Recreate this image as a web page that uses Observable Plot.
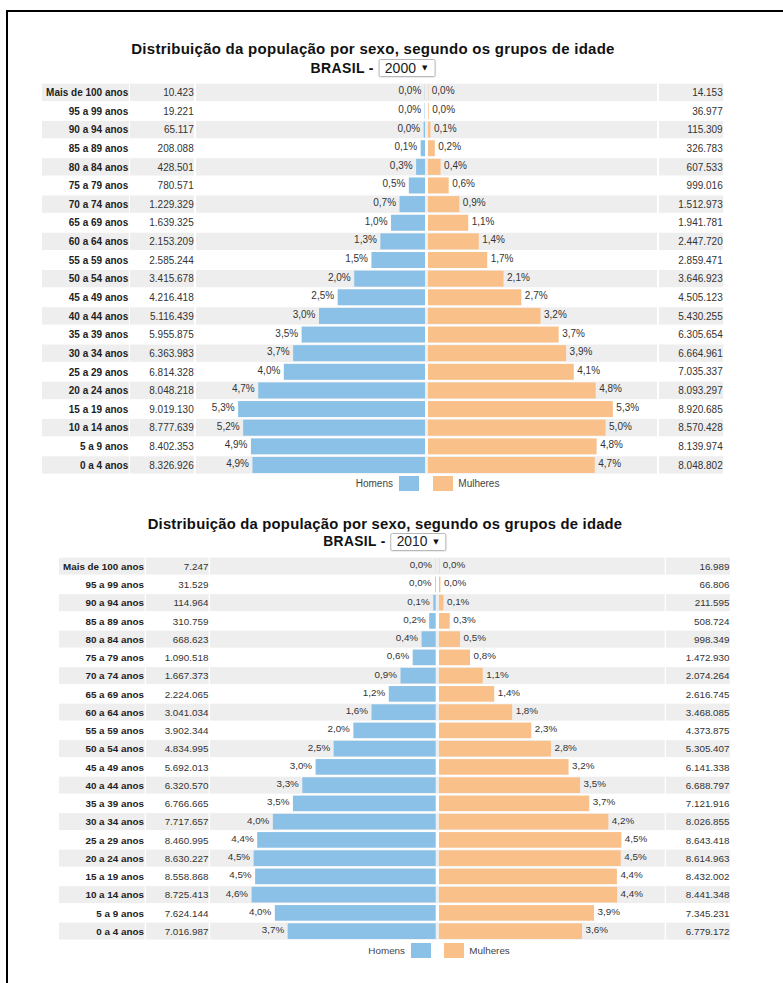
<!DOCTYPE html>
<html><head><meta charset="utf-8">
<script src="https://cdn.jsdelivr.net/npm/d3@7"></script>
<script src="https://cdn.jsdelivr.net/npm/@observablehq/plot@0.6"></script>
<style>
html,body{margin:0;padding:0;background:#fff;overflow:hidden;}
body{width:783px;height:983px;position:relative;font-family:"Liberation Sans",Arial,sans-serif;}
#frame{position:absolute;left:6px;top:10px;width:800px;height:1000px;border-left:2px solid #000;border-top:2px solid #000;}
.title{position:absolute;transform:translateX(-50%);white-space:nowrap;font-weight:bold;line-height:16px;color:#111;}
.line2{position:absolute;transform:translateX(-50%);display:flex;align-items:center;white-space:nowrap;font-weight:bold;height:18px;color:#111;}
.sel{box-sizing:border-box;height:18px;border:1px solid #b8b8b8;border-radius:2px;margin-left:5px;padding:0 7px 0 5px;display:flex;align-items:center;font-weight:normal;color:#222;letter-spacing:0;box-shadow:0 1px 1px rgba(0,0,0,0.08);}
.arrow{font-size:7px;margin-left:6px;font-family:"DejaVu Sans",sans-serif;color:#111;}
.col{position:absolute;}
.col svg{display:block;background:transparent;max-width:none;}
.leg{position:absolute;display:flex;align-items:center;color:#444;}
.sw{width:20px;height:15px;}
</style></head><body>
<div id="frame"></div>
<div id="root"></div>
<script>
const ages = ["Mais de 100 anos","95 a 99 anos","90 a 94 anos","85 a 89 anos","80 a 84 anos","75 a 79 anos","70 a 74 anos","65 a 69 anos","60 a 64 anos","55 a 59 anos","50 a 54 anos","45 a 49 anos","40 a 44 anos","35 a 39 anos","30 a 34 anos","25 a 29 anos","20 a 24 anos","15 a 19 anos","10 a 14 anos","5 a 9 anos","0 a 4 anos"];

const men2000 = [10423,19221,65117,208088,428501,780571,1229329,1639325,2153209,2585244,3415678,4216418,5116439,5955875,6363983,6814328,8048218,9019130,8777639,8402353,8326926];
const women2000 = [14153,36977,115309,326783,607533,999016,1512973,1941781,2447720,2859471,3646923,4505123,5430255,6305654,6664961,7035337,8093297,8920685,8570428,8139974,8048802];
const menPct2000 = ["0,0%","0,0%","0,0%","0,1%","0,3%","0,5%","0,7%","1,0%","1,3%","1,5%","2,0%","2,5%","3,0%","3,5%","3,7%","4,0%","4,7%","5,3%","5,2%","4,9%","4,9%"];
const womenPct2000 = ["0,0%","0,0%","0,1%","0,2%","0,4%","0,6%","0,9%","1,1%","1,4%","1,7%","2,1%","2,7%","3,2%","3,7%","3,9%","4,1%","4,8%","5,3%","5,0%","4,8%","4,7%"];

const men2010 = [7247,31529,114964,310759,668623,1090518,1667373,2224065,3041034,3902344,4834995,5692013,6320570,6766665,7717657,8460995,8630227,8558868,8725413,7624144,7016987];
const women2010 = [16989,66806,211595,508724,998349,1472930,2074264,2616745,3468085,4373875,5305407,6141338,6688797,7121916,8026855,8643418,8614963,8432002,8441348,7345231,6779172];
const menPct2010 = ["0,0%","0,0%","0,1%","0,2%","0,4%","0,6%","0,9%","1,2%","1,6%","2,0%","2,5%","3,0%","3,3%","3,5%","4,0%","4,4%","4,5%","4,5%","4,6%","4,0%","3,7%"];
const womenPct2010 = ["0,0%","0,0%","0,1%","0,3%","0,5%","0,8%","1,1%","1,4%","1,8%","2,3%","2,8%","3,2%","3,5%","3,7%","4,2%","4,5%","4,5%","4,4%","4,4%","3,9%","3,6%"];

const titleText = "Distribuição da população por sexo, segundo os grupos de idade";
const regionText = "BRASIL -";
const legendMen = "Homens";
const legendWomen = "Mulheres";

const fmt = d3.formatLocale({decimal: ",", thousands: ".", grouping: [3], currency: ["R$", ""]}).format(",d");

const BLUE = "#8bc1e7", ORANGE = "#f9c08a", GRAY = "#eeeeee";

const charts = [
  {year: "2000", men: men2000, women: women2000, menPct: menPct2000, womenPct: womenPct2000,
   titleX: 373, titleTop: 41, line2Top: 59, tfont: 15, tls: 0.27, l2font: 14, font: 10,
   top: 82.65, height: 391.3,
   label: [42, 87], mv: [130, 64], bars: [196, 461], wv: [658.5, 64.2],
   D: 11.125e6, gap: 1.5, legTop: 476, blueR: 419, orangeL: 433.3},
  {year: "2010", men: men2010, women: women2010, menPct: menPct2010, womenPct: womenPct2010,
   titleX: 385, titleTop: 516.2, line2Top: 532.7, tfont: 14.8, tls: 0.23, l2font: 13.8, font: 9.85,
   top: 557.1, height: 383.3,
   label: [59, 85.7], mv: [146, 62.7], bars: [210.3, 454.7], wv: [666, 64],
   D: 10.775e6, gap: 1.65, legTop: 942.7, blueR: 431, orangeL: 444.3}
];

const root = document.getElementById("root");

function place(el, left, top, width) {
  const d = document.createElement("div");
  d.className = "col";
  d.style.left = left + "px";
  d.style.top = top + "px";
  if (width) d.style.width = width + "px";
  d.appendChild(el);
  root.appendChild(d);
  return d;
}

charts.forEach(c => {
  const rows = ages.map((age, i) => ({age, i, men: c.men[i], women: c.women[i], mp: c.menPct[i], wp: c.womenPct[i]}));
  const stripes = rows.filter(d => d.i % 2 === 0);
  const style = {fontFamily: "'Liberation Sans', Arial, sans-serif", fontSize: c.font + "px", background: "transparent", overflow: "visible"};
  const yScale = {domain: ages, type: "band", padding: 0, round: false, axis: null};
  const bg = Plot.cell(stripes, {y: "age", fill: GRAY, insetTop: 0.65, insetBottom: 0.65});

  // title
  const t = document.createElement("div");
  t.className = "title";
  t.style.left = c.titleX + "px";
  t.style.top = c.titleTop + "px";
  t.style.fontSize = c.tfont + "px";
  t.style.letterSpacing = c.tls + "px";
  t.textContent = titleText;
  root.appendChild(t);

  const l2 = document.createElement("div");
  l2.className = "line2";
  l2.style.left = c.titleX + "px";
  l2.style.top = c.line2Top + "px";
  l2.style.fontSize = c.l2font + "px";
  l2.innerHTML = `<span style="letter-spacing:0.35px">${regionText}</span><span class="sel"><span>${c.year}</span><span class="arrow">▼</span></span>`;
  root.appendChild(l2);

  // label column
  place(Plot.plot({
    width: c.label[1], height: c.height, margin: 0, style, y: yScale,
    marks: [bg, Plot.text(rows, {y: "age", text: "age", frameAnchor: "right", textAnchor: "end", dx: -1.3, fontWeight: "bold", fill: "#222"})]
  }), c.label[0], c.top, c.label[1]);

  // men values column
  place(Plot.plot({
    width: c.mv[1], height: c.height, margin: 0, style, y: yScale,
    marks: [bg, Plot.text(rows, {y: "age", text: d => fmt(d.men), frameAnchor: "right", textAnchor: "end", dx: -0.8, fill: "#333"})]
  }), c.mv[0], c.top, c.mv[1]);

  // bars
  place(Plot.plot({
    width: c.bars[1], height: c.height, margin: 0, style, y: yScale,
    x: {domain: [-c.D, c.D], axis: null},
    marks: [
      bg,
      Plot.barX(rows, {x1: 0, x2: d => -d.men, y: "age", fill: BLUE, dx: -c.gap, insetTop: 1.3, insetBottom: 1.3}),
      Plot.barX(rows, {x1: 0, x2: "women", y: "age", fill: ORANGE, dx: c.gap, insetTop: 1.3, insetBottom: 1.3}),
      Plot.text(rows, {x: d => -d.men, y: "age", text: "mp", textAnchor: "end", dx: -c.gap - 4, dy: -1.7, fill: "#333"}),
      Plot.text(rows, {x: "women", y: "age", text: "wp", textAnchor: "start", dx: c.gap + 3, dy: -1.7, fill: "#333"})
    ]
  }), c.bars[0], c.top, c.bars[1]);

  // women values column
  place(Plot.plot({
    width: c.wv[1], height: c.height, margin: 0, style, y: yScale,
    marks: [bg, Plot.text(rows, {y: "age", text: d => fmt(d.women), frameAnchor: "right", textAnchor: "end", dx: -1, fill: "#333"})]
  }), c.wv[0], c.top, c.wv[1]);

  // legend
  const lg1 = document.createElement("div");
  lg1.className = "leg";
  lg1.style.left = (c.blueR - 200) + "px";
  lg1.style.width = "200px";
  lg1.style.justifyContent = "flex-end";
  lg1.style.top = c.legTop + "px";
  lg1.style.fontSize = c.font + "px";
  lg1.innerHTML = `<span style="margin-right:6px">${legendMen}</span><span class="sw" style="background:${BLUE}"></span>`;
  root.appendChild(lg1);

  const lg2 = document.createElement("div");
  lg2.className = "leg";
  lg2.style.left = c.orangeL + "px";
  lg2.style.top = c.legTop + "px";
  lg2.style.fontSize = c.font + "px";
  lg2.innerHTML = `<span class="sw" style="background:${ORANGE}"></span><span style="margin-left:5px">${legendWomen}</span>`;
  root.appendChild(lg2);
});
</script></body></html>
